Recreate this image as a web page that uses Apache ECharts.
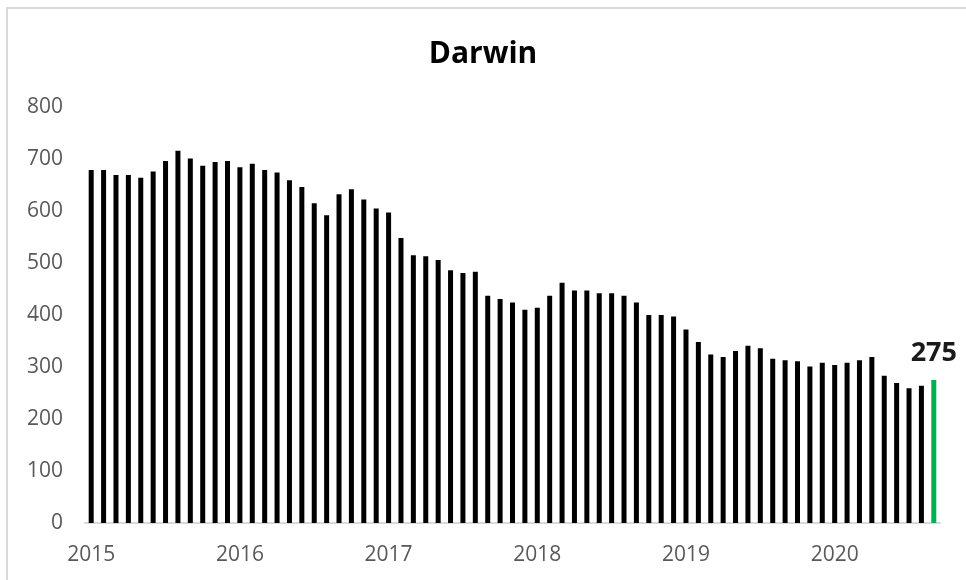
<!DOCTYPE html>
<html>
<head>
<meta charset="utf-8">
<script src="https://cdn.jsdelivr.net/npm/echarts@6/dist/echarts.min.js"></script>
<style>
html,body{margin:0;padding:0;background:#fff;}
#chart{width:966px;height:580px;}
</style>
</head>
<body>
<div id="chart"></div>
<script>
var categories = [
"2015-01","2015-02","2015-03","2015-04","2015-05","2015-06","2015-07","2015-08","2015-09","2015-10","2015-11","2015-12",
"2016-01","2016-02","2016-03","2016-04","2016-05","2016-06","2016-07","2016-08","2016-09","2016-10","2016-11","2016-12",
"2017-01","2017-02","2017-03","2017-04","2017-05","2017-06","2017-07","2017-08","2017-09","2017-10","2017-11","2017-12",
"2018-01","2018-02","2018-03","2018-04","2018-05","2018-06","2018-07","2018-08","2018-09","2018-10","2018-11","2018-12",
"2019-01","2019-02","2019-03","2019-04","2019-05","2019-06","2019-07","2019-08","2019-09","2019-10","2019-11","2019-12",
"2020-01","2020-02","2020-03","2020-04","2020-05","2020-06","2020-07","2020-08","2020-09"
];
var values = [
679,679,669,669,664,676,696,716,701,687,694,696,
684,691,679,674,659,646,615,592,632,642,622,605,
597,548,515,513,506,486,481,483,437,431,424,410,
414,437,462,447,447,442,442,437,424,400,400,397,
372,348,324,319,331,341,336,316,313,311,301,308,
304,308,313,319,283,269,259,264,275
];
var yTicks = [0,100,200,300,400,500,600,700,800];
var titleText = "Darwin";

var lastIdx = values.length - 1;
var seriesData = values.map(function (v, i) {
  if (i === lastIdx) {
    return {
      value: v,
      itemStyle: { color: '#00b050' },
      label: {
        show: true, position: 'top', distance: 13,
        formatter: String(v),
        fontFamily: 'Open Sans', fontWeight: 'bold', fontSize: 27, color: '#1a1a1a'
      }
    };
  }
  return v;
});

var chart = echarts.init(document.getElementById('chart'), null, {renderer: 'canvas'});
chart.setOption({
  animation: false,
  backgroundColor: '#ffffff',
  graphic: [{
    type: 'rect',
    shape: { x: 7, y: 8, width: 1200, height: 1000 },
    style: { fill: 'none', stroke: '#d9d9d9', lineWidth: 2 },
    silent: true, z: -10
  }],
  title: {
    text: titleText,
    left: 'center',
    top: 34,
    textStyle: { fontFamily: 'Open Sans', fontWeight: 'bold', fontSize: 30, color: '#000000' }
  },
  grid: { left: 85, right: 26, top: 107, bottom: 57, containLabel: false },
  xAxis: {
    type: 'category',
    data: categories,
    boundaryGap: true,
    axisLine: { show: true, lineStyle: { color: '#d9d9d9', width: 2 } },
    axisTick: { show: false },
    axisLabel: {
      interval: function (idx) { return idx % 12 === 0; },
      formatter: function (v) { return v.slice(0, 4); },
      margin: 22,
      fontFamily: 'Open Sans', fontSize: 21, color: '#595959'
    },
    splitLine: { show: false }
  },
  yAxis: {
    type: 'value',
    min: yTicks[0],
    max: yTicks[yTicks.length - 1],
    interval: 100,
    axisLine: { show: false },
    axisTick: { show: false },
    splitLine: { show: false },
    axisLabel: {
      margin: 22,
      fontFamily: 'Open Sans', fontSize: 21, color: '#595959'
    }
  },
  series: [{
    type: 'bar',
    data: seriesData,
    barWidth: 5,
    itemStyle: { color: '#000000' }
  }]
});
</script>
</body>
</html>
